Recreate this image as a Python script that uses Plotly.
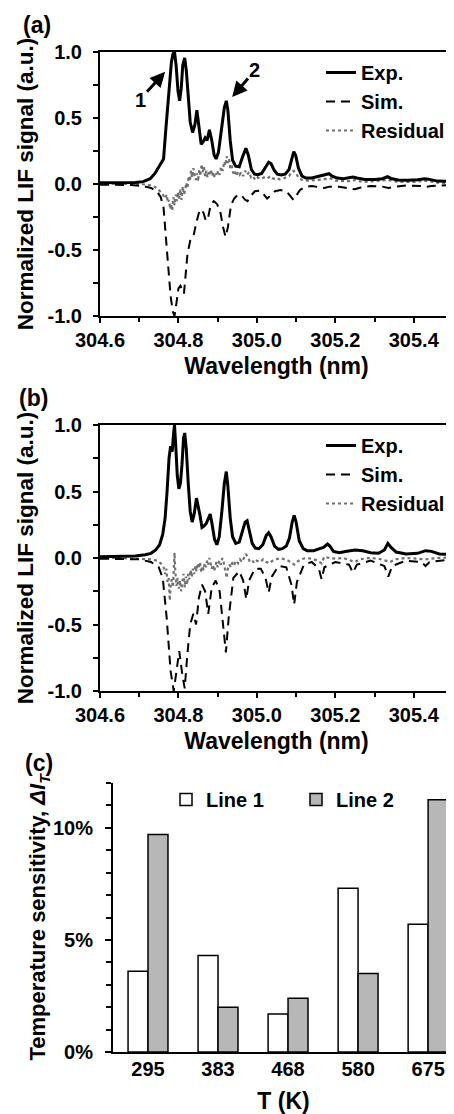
import plotly.graph_objects as go

# ---------------- Panel (a) data ----------------
exp_a_x = [304.600, 304.650, 304.690, 304.710, 304.728, 304.740, 304.748, 304.755, 304.762, 304.768,
           304.773, 304.777, 304.782, 304.786, 304.790, 304.794, 304.799, 304.803, 304.807, 304.811,
           304.816, 304.820, 304.825, 304.830, 304.836, 304.842, 304.847, 304.852, 304.858, 304.863,
           304.868, 304.873, 304.879, 304.885, 304.891, 304.896, 304.902, 304.910, 304.917, 304.922,
           304.926, 304.932, 304.938, 304.946, 304.955, 304.964, 304.972, 304.978, 304.986, 304.994,
           305.002, 305.012, 305.022, 305.030, 305.036, 305.044, 305.052, 305.062, 305.072, 305.082,
           305.089, 305.094, 305.099, 305.106, 305.115, 305.125, 305.140, 305.155, 305.168, 305.178,
           305.184, 305.192, 305.205, 305.220, 305.235, 305.245, 305.255, 305.275, 305.300, 305.320,
           305.333, 305.342, 305.360, 305.385, 305.410, 305.428, 305.440, 305.460, 305.480, 305.500]
exp_a_y = [0.010, 0.010, 0.012, 0.018, 0.040, 0.080, 0.120, 0.150, 0.190, 0.420,
           0.620, 0.780, 0.920, 0.985, 1.000, 0.900, 0.700, 0.630, 0.720, 0.900,
           0.955, 0.860, 0.650, 0.470, 0.390, 0.450, 0.560, 0.450, 0.300, 0.320,
           0.350, 0.330, 0.410, 0.330, 0.220, 0.190, 0.240, 0.420, 0.580, 0.630,
           0.560, 0.330, 0.180, 0.135, 0.130, 0.210, 0.270, 0.220, 0.110, 0.075,
           0.070, 0.080, 0.130, 0.165, 0.155, 0.105, 0.075, 0.068, 0.075, 0.110,
           0.190, 0.245, 0.215, 0.120, 0.060, 0.045, 0.045, 0.055, 0.065, 0.070,
           0.078, 0.060, 0.045, 0.040, 0.048, 0.052, 0.045, 0.035, 0.035, 0.040,
           0.055, 0.042, 0.030, 0.028, 0.032, 0.040, 0.035, 0.022, 0.020, 0.020]

sim_a_x = [304.600, 304.680, 304.710, 304.730, 304.745, 304.755, 304.762, 304.768, 304.774, 304.780,
           304.786, 304.790, 304.795, 304.800, 304.805, 304.810, 304.814, 304.818, 304.823, 304.830,
           304.838, 304.845, 304.852, 304.858, 304.864, 304.870, 304.876, 304.882, 304.890, 304.898,
           304.906, 304.914, 304.920, 304.926, 304.934, 304.942, 304.952, 304.962, 304.970, 304.976,
           304.984, 304.995, 305.008, 305.018, 305.026, 305.034, 305.046, 305.060, 305.075, 305.085,
           305.093, 305.100, 305.110, 305.125, 305.140, 305.160, 305.172, 305.185, 305.210, 305.240,
           305.250, 305.262, 305.290, 305.320, 305.335, 305.350, 305.380, 305.420, 305.432, 305.445,
           305.480, 305.500]
sim_a_y = [-0.005, -0.008, -0.015, -0.030, -0.055, -0.100, -0.180, -0.400, -0.650, -0.850,
           -0.970, -1.000, -0.900, -0.790, -0.770, -0.800, -0.830, -0.700, -0.530, -0.430,
           -0.400, -0.300, -0.220, -0.190, -0.220, -0.280, -0.250, -0.160, -0.130, -0.150,
           -0.200, -0.330, -0.400, -0.330, -0.160, -0.110, -0.080, -0.090, -0.120, -0.130,
           -0.090, -0.055, -0.050, -0.080, -0.110, -0.090, -0.055, -0.045, -0.055, -0.090,
           -0.120, -0.090, -0.045, -0.020, -0.015, -0.025, -0.030, -0.020, -0.020, -0.035,
           -0.040, -0.028, -0.015, -0.020, -0.030, -0.022, -0.012, -0.015, -0.022, -0.015,
           -0.008, -0.008]

res_a_x = [304.600, 304.640, 304.680, 304.700, 304.720, 304.735, 304.745, 304.752, 304.758, 304.762,
           304.766, 304.770, 304.773, 304.776, 304.779, 304.781, 304.784, 304.787, 304.790, 304.793,
           304.796, 304.799, 304.802, 304.805, 304.808, 304.811, 304.814, 304.817, 304.820, 304.823,
           304.826, 304.829, 304.832, 304.835, 304.838, 304.841, 304.844, 304.847, 304.850, 304.853,
           304.856, 304.859, 304.862, 304.865, 304.868, 304.871, 304.874, 304.877, 304.880, 304.883,
           304.886, 304.889, 304.892, 304.895, 304.898, 304.901, 304.905, 304.909, 304.913, 304.917,
           304.920, 304.923, 304.926, 304.929, 304.932, 304.936, 304.940, 304.944, 304.948, 304.952,
           304.956, 304.960, 304.965, 304.970, 304.975, 304.980, 304.985, 304.990, 304.996, 305.002,
           305.010, 305.018, 305.026, 305.034, 305.042, 305.050, 305.058, 305.066, 305.074, 305.082,
           305.088, 305.094, 305.100, 305.108, 305.116, 305.130, 305.150, 305.170, 305.185, 305.200,
           305.230, 305.250, 305.270, 305.300, 305.335, 305.360, 305.400, 305.430, 305.460, 305.500]
res_a_y = [0.005, 0.002, 0.004, 0.000, -0.005, -0.015, -0.030, -0.050, -0.070, -0.090,
           -0.110, -0.080, -0.140, -0.120, -0.190, -0.150, -0.200, -0.100, -0.160, -0.080,
           -0.130, -0.060, -0.110, -0.040, -0.120, -0.020, -0.080, -0.050, 0.010, -0.030,
           0.060, 0.020, 0.100, 0.050, 0.120, 0.060, 0.030, 0.080, 0.020, 0.110,
           0.060, 0.150, 0.090, 0.130, 0.060, 0.100, 0.050, 0.090, 0.070, 0.110,
           0.060, 0.090, 0.050, 0.080, 0.060, 0.100, 0.070, 0.130, 0.100, 0.170,
           0.140, 0.210, 0.160, 0.190, 0.120, 0.140, 0.080, 0.100, 0.060, 0.090,
           0.070, 0.090, 0.060, 0.100, 0.070, 0.090, 0.050, 0.060, 0.030, 0.050,
           0.040, 0.050, 0.040, 0.060, 0.040, 0.045, 0.035, 0.040, 0.050, 0.060,
           0.090, 0.100, 0.080, 0.040, 0.030, 0.025, 0.030, 0.035, 0.045, 0.025,
           0.020, 0.030, 0.015, 0.020, 0.030, 0.015, 0.015, 0.025, 0.010, 0.005]

# ---------------- Panel (b) data ----------------
exp_b_x = [304.600, 304.650, 304.690, 304.715, 304.730, 304.742, 304.752, 304.760, 304.766, 304.771,
           304.776, 304.780, 304.784, 304.788, 304.790, 304.793, 304.797, 304.801, 304.805, 304.809,
           304.813, 304.816, 304.820, 304.825, 304.830, 304.835, 304.840, 304.846, 304.850, 304.855,
           304.860, 304.865, 304.871, 304.877, 304.881, 304.886, 304.892, 304.898, 304.904, 304.911,
           304.917, 304.922, 304.926, 304.932, 304.938, 304.946, 304.955, 304.964, 304.970, 304.975,
           304.980, 304.988, 304.996, 305.005, 305.015, 305.024, 305.030, 305.036, 305.045, 305.055,
           305.065, 305.075, 305.083, 305.090, 305.095, 305.100, 305.108, 305.118, 305.128, 305.145,
           305.160, 305.170, 305.180, 305.186, 305.195, 305.210, 305.230, 305.250, 305.270, 305.290,
           305.310, 305.325, 305.334, 305.342, 305.355, 305.380, 305.410, 305.430, 305.445, 305.465,
           305.500]
exp_b_y = [0.010, 0.010, 0.015, 0.025, 0.035, 0.060, 0.100, 0.180, 0.300, 0.500,
           0.750, 0.840, 0.800, 0.950, 1.000, 0.850, 0.620, 0.520, 0.560, 0.700,
           0.900, 0.940, 0.820, 0.560, 0.350, 0.270, 0.330, 0.450, 0.400, 0.320,
           0.230, 0.240, 0.260, 0.310, 0.330, 0.250, 0.140, 0.100, 0.160, 0.360,
           0.560, 0.650, 0.540, 0.300, 0.160, 0.110, 0.120, 0.210, 0.270, 0.280,
           0.220, 0.110, 0.075, 0.070, 0.100, 0.170, 0.190, 0.160, 0.090, 0.065,
           0.070, 0.090, 0.150, 0.270, 0.320, 0.270, 0.130, 0.070, 0.055, 0.055,
           0.070, 0.080, 0.105, 0.090, 0.050, 0.040, 0.050, 0.060, 0.055, 0.040,
           0.035, 0.060, 0.110, 0.080, 0.045, 0.030, 0.035, 0.055, 0.050, 0.030,
           0.025]

sim_b_x = [304.600, 304.700, 304.730, 304.750, 304.760, 304.770, 304.780, 304.788, 304.795, 304.802,
           304.810, 304.816, 304.822, 304.830, 304.838, 304.845, 304.852, 304.860, 304.868, 304.876,
           304.885, 304.895, 304.905, 304.915, 304.921, 304.928, 304.940, 304.955, 304.965, 304.973,
           304.980, 304.995, 305.010, 305.022, 305.030, 305.038, 305.055, 305.075, 305.088, 305.095,
           305.102, 305.120, 305.140, 305.158, 305.165, 305.172, 305.200, 305.235, 305.245, 305.255,
           305.290, 305.325, 305.335, 305.345, 305.380, 305.420, 305.430, 305.440, 305.500]
sim_b_y = [-0.005, -0.010, -0.030, -0.070, -0.150, -0.450, -0.850, -1.000, -0.850, -0.700,
           -0.880, -0.980, -0.750, -0.500, -0.420, -0.500, -0.300, -0.200, -0.250, -0.420,
           -0.220, -0.170, -0.250, -0.550, -0.710, -0.450, -0.150, -0.100, -0.170, -0.310,
           -0.170, -0.080, -0.080, -0.150, -0.260, -0.140, -0.060, -0.070, -0.200, -0.350,
           -0.180, -0.050, -0.030, -0.080, -0.160, -0.070, -0.030, -0.050, -0.110, -0.050,
           -0.020, -0.060, -0.140, -0.060, -0.020, -0.030, -0.060, -0.030, -0.010]

res_b_x = [304.600, 304.650, 304.700, 304.730, 304.745, 304.755, 304.762, 304.766, 304.769, 304.772,
           304.775, 304.778, 304.780, 304.783, 304.786, 304.788, 304.790, 304.792, 304.795, 304.798,
           304.801, 304.804, 304.807, 304.810, 304.813, 304.816, 304.819, 304.822, 304.825, 304.828,
           304.831, 304.834, 304.837, 304.840, 304.843, 304.846, 304.849, 304.852, 304.855, 304.858,
           304.861, 304.864, 304.867, 304.870, 304.873, 304.876, 304.879, 304.882, 304.885, 304.888,
           304.891, 304.894, 304.897, 304.900, 304.904, 304.908, 304.912, 304.916, 304.920, 304.923,
           304.926, 304.930, 304.934, 304.938, 304.942, 304.947, 304.952, 304.957, 304.962, 304.967,
           304.972, 304.976, 304.981, 304.987, 304.993, 305.000, 305.008, 305.016, 305.024, 305.032,
           305.040, 305.050, 305.060, 305.070, 305.080, 305.090, 305.096, 305.102, 305.112, 305.125,
           305.140, 305.155, 305.165, 305.172, 305.185, 305.200, 305.220, 305.240, 305.250, 305.262,
           305.285, 305.310, 305.330, 305.340, 305.352, 305.380, 305.410, 305.430, 305.460, 305.500]
res_b_y = [0.005, 0.000, -0.005, -0.010, -0.020, -0.040, -0.070, -0.120, -0.080, -0.180,
           -0.150, -0.320, -0.200, -0.160, -0.220, -0.120, 0.040, -0.100, -0.210, -0.150,
           -0.230, -0.170, -0.250, -0.180, -0.120, -0.220, -0.140, -0.200, -0.120, -0.160,
           -0.090, -0.140, -0.080, -0.120, -0.060, -0.100, -0.040, -0.080, -0.030, -0.110,
           -0.060, -0.090, -0.040, -0.070, -0.020, -0.050, 0.000, -0.040, -0.080, -0.050,
           -0.100, -0.060, -0.030, -0.070, -0.020, -0.050, 0.000, -0.040, -0.100, -0.150,
           -0.080, -0.050, -0.070, -0.030, -0.050, -0.020, -0.040, -0.010, -0.030, 0.000,
           0.030, 0.010, -0.020, -0.010, -0.040, -0.020, -0.030, -0.010, -0.030, -0.040,
           -0.020, -0.010, 0.000, -0.010, -0.020, -0.040, -0.050, -0.030, -0.010, 0.000,
           -0.005, -0.020, -0.040, 0.010, 0.000, -0.005, 0.000, -0.020, -0.030, -0.010,
           0.000, -0.005, -0.020, -0.030, -0.010, 0.000, -0.005, -0.010, 0.000, 0.005]

# ---------------- Panel (c) data ----------------
temps = ["295", "383", "468", "580", "675"]
line1_sens = [0.036, 0.043, 0.017, 0.073, 0.057]
line2_sens = [0.097, 0.020, 0.024, 0.035, 0.1125]

# tick labels
wl_tickvals = [304.6, 304.8, 305.0, 305.2, 305.4]
wl_ticktext = ["304.6", "304.8", "305.0", "305.2", "305.4"]
sig_tickvals = [-1.0, -0.5, 0.0, 0.5, 1.0]
sig_ticktext = ["-1.0", "-0.5", "0.0", "0.5", "1.0"]

# page is 454x1114; the html body has an 8px margin, so the figure itself is 446x1106
OFF = 8
W, H = 454 - OFF, 1114 - OFF
FONT = "Liberation Sans, Arial, Helvetica, sans-serif"

def px_x(p):
    return (p - OFF) / W

def px_y(p):
    return 1 - (p - OFF) / H

fig = go.Figure()

for (ex, ey, sx, sy, rx, ry, xa, ya, lg) in [
    (exp_a_x, exp_a_y, sim_a_x, sim_a_y, res_a_x, res_a_y, "x", "y", "legend"),
    (exp_b_x, exp_b_y, sim_b_x, sim_b_y, res_b_x, res_b_y, "x2", "y2", "legend2"),
]:
    fig.add_trace(go.Scatter(x=rx, y=ry, mode="lines", name="Residual", xaxis=xa, yaxis=ya,
                             line=dict(color="#707070", width=2.2, dash="dot"), legend=lg,
                             legendrank=3))
    fig.add_trace(go.Scatter(x=sx, y=sy, mode="lines", name="Sim.", xaxis=xa, yaxis=ya,
                             line=dict(color="black", width=2, dash="9px,6px"), legend=lg,
                             legendrank=2))
    fig.add_trace(go.Scatter(x=ex, y=ey, mode="lines", name="Exp.", xaxis=xa, yaxis=ya,
                             line=dict(color="black", width=3), legend=lg, legendrank=1))

fig.add_trace(go.Bar(x=temps, y=line1_sens, name="Line 1", xaxis="x3", yaxis="y3",
                     marker=dict(color="white", line=dict(color="black", width=1.5)),
                     legend="legend3"))
fig.add_trace(go.Bar(x=temps, y=line2_sens, name="Line 2", xaxis="x3", yaxis="y3",
                     marker=dict(color="#b7b7b7", line=dict(color="black", width=1.5)),
                     legend="legend3"))

tickfont = dict(family=FONT, size=20, color="black", weight="bold")
titlefont = dict(family=FONT, size=23, color="black", weight="bold")
ytitlefont = dict(family=FONT, size=22.5, color="black", weight="bold")

def wl_axis(dom_y_anchor):
    return dict(domain=[px_x(100), px_x(453)], range=[304.6, 305.5], anchor=dom_y_anchor,
                automargin=False,
                tickmode="array", tickvals=wl_tickvals, ticktext=wl_ticktext,
                ticks="outside", ticklen=5, tickwidth=2, tickcolor="black",
                minor=dict(dtick=0.1, tick0=304.6, ticks="outside", ticklen=4, tickwidth=2,
                           tickcolor="black"),
                showline=True, linewidth=2, linecolor="black", mirror=True,
                showgrid=False, zeroline=False, tickfont=tickfont, ticklabelstandoff=0,
                title=dict(text="Wavelength (nm)", font=titlefont, standoff=8))

def sig_axis(dom, x_anchor):
    return dict(domain=dom, range=[-1, 1], anchor=x_anchor, automargin=False,
                tickmode="array", tickvals=sig_tickvals, ticktext=sig_ticktext,
                ticks="outside", ticklen=5, tickwidth=2, tickcolor="black",
                minor=dict(dtick=0.25, tick0=-1, ticks="outside", ticklen=5, tickwidth=2,
                           tickcolor="black"),
                showline=True, linewidth=2, linecolor="black", mirror=True,
                showgrid=False, zeroline=False, tickfont=tickfont, ticklabelstandoff=7,
                title=dict(text="Normalized LIF signal (a.u.)", font=ytitlefont, standoff=8))

legend_common = dict(font=dict(family=FONT, size=20, color="black", weight="bold"),
                     bgcolor="rgba(0,0,0,0)", borderwidth=0, traceorder="normal",
                     tracegroupgap=0, itemclick=False, itemdoubleclick=False)

fig.update_layout(
    template="none",
    width=W, height=H,
    margin=dict(l=0, r=0, t=0, b=0, pad=0, autoexpand=False),
    paper_bgcolor="white", plot_bgcolor="white",
    showlegend=True,
    barmode="group", bargap=0.43, bargroupgap=0,
    xaxis=wl_axis("y"),
    yaxis=sig_axis([px_y(316), px_y(52)], "x"),
    xaxis2=wl_axis("y2"),
    yaxis2=sig_axis([px_y(691), px_y(425)], "x2"),
    xaxis3=dict(type="category", domain=[px_x(113), 1.0], range=[-0.5, 4.37], anchor="y3",
                automargin=False,
                showline=True, linewidth=2, linecolor="black", ticks="",
                showgrid=False, zeroline=False, tickfont=tickfont, ticklabelstandoff=-2,
                title=dict(text="T (K)", font=titlefont, standoff=17)),
    yaxis3=dict(domain=[px_y(1052), px_y(783)], range=[0, 0.12], anchor="x3", automargin=False,
                tickmode="linear", dtick=0.05, tick0=0, tickformat=".0%",
                ticks="outside", ticklen=6, tickwidth=2, tickcolor="black",
                minor=dict(dtick=0.01, ticks="outside", ticklen=5, tickwidth=2, tickcolor="black"),
                showline=True, linewidth=2, linecolor="black",
                showgrid=False, zeroline=False, tickfont=tickfont, ticklabelstandoff=8,
                title=dict(text="Temperature sensitivity, <i>ΔI</i><sub><i>T</i></sub>",
                           font=dict(family=FONT, size=22, color="black", weight="bold"),
                           standoff=0)),
    legend=dict(x=px_x(321), y=px_y(53), xanchor="left", yanchor="top", **legend_common),
    legend2=dict(x=px_x(321), y=px_y(426), xanchor="left", yanchor="top", **legend_common),
    legend3=dict(x=px_x(166), y=px_y(780), xanchor="left", yanchor="top", orientation="h",
                 entrywidth=85, entrywidthmode="pixels", **legend_common),
)

panel_labels = ["(a)", "(b)", "(c)"]
panel_pos = [(37, 25), (33, 398), (39, 763)]
for lab, (px, py) in zip(panel_labels, panel_pos):
    fig.add_annotation(text=lab, x=px_x(px), y=px_y(py), xref="paper", yref="paper",
                       showarrow=False, xanchor="center", yanchor="middle",
                       font=dict(family=FONT, size=23, color="black", weight="bold"))

# numbered arrows marking line 1 and line 2 in panel (a)
arrow_labels = ["1", "2"]
arrow_heads = [(304.766, 0.85), (304.937, 0.66)]
label_pos = [(304.702, 0.64), (304.995, 0.86)]
for lab, (hx, hy), (lx, ly) in zip(arrow_labels, arrow_heads, label_pos):
    fig.add_annotation(x=hx, y=hy, ax=lx, ay=ly, xref="x", yref="y", axref="x", ayref="y",
                       showarrow=True, arrowhead=2, arrowsize=1, arrowwidth=3,
                       arrowcolor="black", text=lab,
                       font=dict(family=FONT, size=20, color="black", weight="bold"))

fig.write_html("out.html")
